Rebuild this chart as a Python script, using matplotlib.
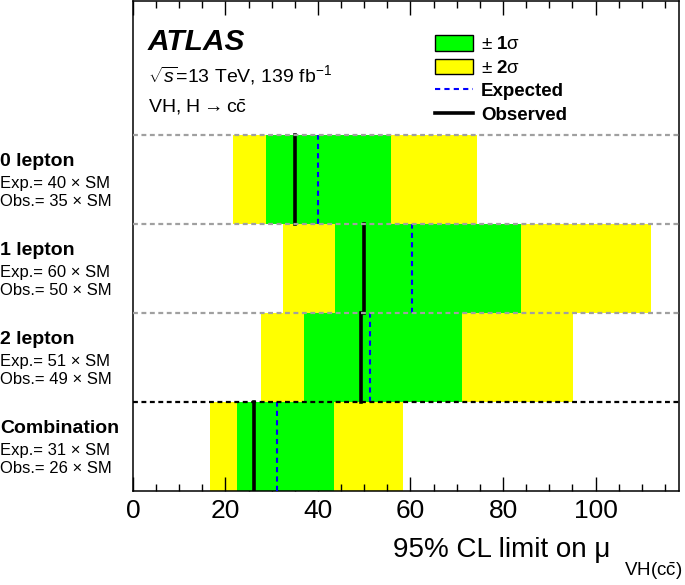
import matplotlib
matplotlib.use('Agg')
import matplotlib.pyplot as plt
import matplotlib.transforms as mtransforms
from matplotlib.patches import Patch
from matplotlib.lines import Line2D

plt.rcParams['font.family'] = ['Liberation Sans', 'DejaVu Sans']
plt.rcParams['mathtext.fontset'] = 'custom'
plt.rcParams['mathtext.rm'] = 'Liberation Sans'
plt.rcParams['mathtext.it'] = 'Liberation Sans:italic'
plt.rcParams['mathtext.bf'] = 'Liberation Sans:bold'

# Каналы (сверху вниз) и подписи
channels = ['0 lepton', '1 lepton', '2 lepton', 'Combination']
exp_text = [40, 60, 51, 31]
obs_text = [35, 50, 49, 26]

# Пределы
expected = [40.1, 60.3, 51.2, 31.1]
observed = [35.0, 50.0, 49.2, 26.1]
band1_lo = [28.8, 43.6, 37.0, 22.5]
band1_hi = [55.7, 83.8, 71.2, 43.5]
band2_lo = [21.7, 32.5, 27.6, 16.7]
band2_hi = [74.3, 112.0, 95.1, 58.3]

fig = plt.figure(figsize=(6.85, 5.85), dpi=100)
ax = fig.add_axes([0.194, 0.1607, 0.797, 0.8373])

n = len(channels)
rows = [n - 1 - i for i in range(n)]  # нижний край каждой полосы

for i, y in enumerate(rows):
    ax.barh(y, band2_hi[i] - band2_lo[i], left=band2_lo[i], height=1, align='edge',
            color='#ffff00', linewidth=0, zorder=1)
    ax.barh(y, band1_hi[i] - band1_lo[i], left=band1_lo[i], height=1, align='edge',
            color='#00ff00', linewidth=0, zorder=2)
    ax.plot([expected[i], expected[i]], [y, y + 1], color='#0000ff', linewidth=1.5,
            dashes=(2.5, 2.0), zorder=3)
    ax.plot([observed[i], observed[i]], [y, y + 1], color='black', linewidth=2.6, zorder=4)

# Разделители между каналами
for y in rows[:-1]:
    ax.axhline(y + 1, color='#a0a0a0', linewidth=1.6, dashes=(2.2, 1.6), zorder=5)
ax.axhline(rows[-1] + 1, color='black', linewidth=1.6, dashes=(2.2, 1.6), zorder=5)

ax.set_xlim(0, 118)
ax.set_ylim(0, 5.5)
ax.set_yticks([])
ax.set_xticks(range(0, 101, 20))
ax.set_xticks(range(0, 118, 5), minor=True)
ax.tick_params(axis='x', which='both', direction='in', top=True, labelsize=19, pad=6, width=1)
ax.tick_params(axis='x', which='major', length=10)
ax.tick_params(axis='x', which='minor', length=5)
for s in ax.spines.values():
    s.set_linewidth(1.1)

# Подпись оси X: основной текст и опущенный индекс
fig.text(610 / 685, 1 - 557 / 585, '95% CL limit on μ', fontsize=20,
         ha='right', va='baseline')
fig.text(682 / 685, 1 - 576 / 585, r'VH(c$\bar{\mathrm{c}}$)', fontsize=13.5,
         ha='right', va='baseline')

# Подписи каналов слева
trans = mtransforms.blended_transform_factory(fig.transFigure, ax.transData)
for i, y in enumerate(rows):
    top = y + 1
    ax.text(0.0, top - 0.35, channels[i], transform=trans, fontsize=14, fontweight='bold',
            ha='left', va='baseline')
    ax.text(0.0, top - 0.60, f'Exp.= {exp_text[i]} × SM', transform=trans, fontsize=12,
            ha='left', va='baseline')
    ax.text(0.0, top - 0.80, f'Obs.= {obs_text[i]} × SM', transform=trans, fontsize=12,
            ha='left', va='baseline')

# ATLAS и подписи
ax.text(0.216, 0.914, 'ATLAS', transform=fig.transFigure, fontsize=21.5, fontweight='bold',
        fontstyle='italic', ha='left', va='baseline')
ax.text(0.216, 0.860, r'$\sqrt{s}$=13 TeV, 139 fb$^{-1}$', transform=fig.transFigure,
        fontsize=14, ha='left', va='baseline')
ax.text(0.216, 0.807, r'VH, H$\rightarrow$c$\bar{\mathrm{c}}$', transform=fig.transFigure,
        fontsize=14, ha='left', va='baseline')

handles = [Patch(facecolor='#00ff00', edgecolor='black', linewidth=1.0),
           Patch(facecolor='#ffff00', edgecolor='black', linewidth=1.0),
           Line2D([], [], color='#0000ff', linewidth=1.5, dashes=(2.5, 2.0)),
           Line2D([], [], color='black', linewidth=2.6)]
labels = [r'± $\mathbf{1}$σ', r'± $\mathbf{2}$σ', 'Expected', 'Observed']
leg = ax.legend(handles, labels, loc='upper left', bbox_to_anchor=(0.635, 0.940),
                bbox_transform=fig.transFigure, frameon=False, fontsize=13.5,
                handlelength=2.05, handleheight=0.9, handletextpad=0.4,
                labelspacing=0.28, borderpad=0, borderaxespad=0)
for t in leg.get_texts()[2:]:
    t.set_fontweight('bold')

plt.savefig('out.png', dpi=100)
